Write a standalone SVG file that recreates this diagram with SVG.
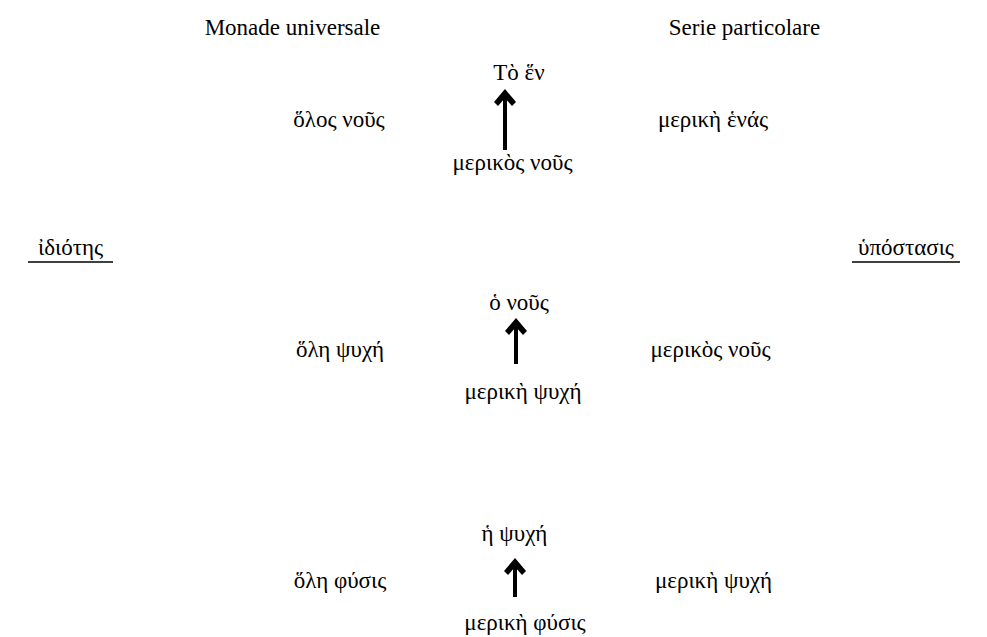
<svg xmlns="http://www.w3.org/2000/svg" width="987" height="637" viewBox="0 0 987 637">
<style>
text{font-family:'Liberation Serif',serif;font-size:23px;fill:#000;text-anchor:middle}
.ul{stroke:#000;stroke-width:1.5}
.shaft{stroke:#000;stroke-width:4;fill:none}
.head{fill:#000}
</style>
<rect width="987" height="637" fill="#fff"/>
<g id="headers">
<text x="292.5" y="35">Monade universale</text>
<text x="744.5" y="35">Serie particolare</text>
</g>
<g id="side-labels">
<text x="70.5" y="255">ἰδιότης</text>
<line class="ul" x1="28" y1="262" x2="113" y2="262"/>
<text x="906" y="255">ὑπόστασις</text>
<line class="ul" x1="852" y1="262" x2="960" y2="262"/>
</g>
<g id="node-to-en"><text x="519" y="80">Τὸ ἕν</text></g>
<g id="node-holos-nous"><text x="339" y="127">ὅλος νοῦς</text></g>
<g id="node-merike-henas"><text x="713" y="127">μερικὴ ἑνάς</text></g>
<g id="node-merikos-nous-1"><text x="512.5" y="170">μερικὸς νοῦς</text></g>
<g id="node-ho-nous"><text x="519" y="310">ὁ νοῦς</text></g>
<g id="node-hole-psyche"><text x="340" y="357">ὅλη ψυχή</text></g>
<g id="node-merikos-nous-2"><text x="710.5" y="357">μερικὸς νοῦς</text></g>
<g id="node-merike-psyche-1"><text x="523" y="399">μερικὴ ψυχή</text></g>
<g id="node-he-psyche"><text x="514.5" y="541">ἡ ψυχή</text></g>
<g id="node-hole-physis"><text x="340" y="588">ὅλη φύσις</text></g>
<g id="node-merike-psyche-2"><text x="713.5" y="588">μερικὴ ψυχή</text></g>
<g id="node-merike-physis"><text x="525" y="630">μερικὴ φύσις</text></g>
<g id="connectors">
<line class="shaft" x1="505" y1="150" x2="505" y2="96"/>
<path class="head" d="M505,89 L516,102 L512,106 L505,98 L498,106 L494,102 Z"/>
<line class="shaft" x1="516" y1="364" x2="516" y2="325"/>
<path class="head" d="M516,318 L527,331 L523,335 L516,327 L509,335 L505,331 Z"/>
<line class="shaft" x1="515" y1="597" x2="515" y2="565"/>
<path class="head" d="M515,558 L526,571 L522,575 L515,567 L508,575 L504,571 Z"/>
</g>
</svg>
